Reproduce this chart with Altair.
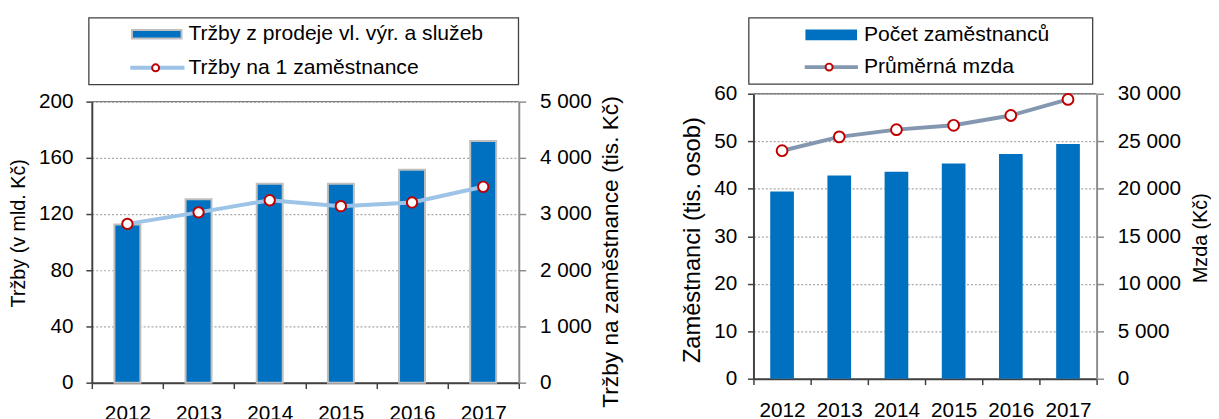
import altair as alt
import pandas as pd

# ---- data ----
years = ["2012", "2013", "2014", "2015", "2016", "2017"]
trzby = [112.5, 130.5, 141.5, 141.5, 151.5, 172.0]          # mld. Kč
trzby_na_zam = [2825, 3030, 3245, 3140, 3205, 3485]         # tis. Kč
zamestnanci = [39.4, 42.8, 43.6, 45.3, 47.3, 49.4]          # tis. osob
mzda = [24000, 25460, 26220, 26680, 27710, 29400]           # Kč

left_ticks = [0, 40, 80, 120, 160, 200]
left2_ticks = [0, 1000, 2000, 3000, 4000, 5000]
right_ticks = [0, 10, 20, 30, 40, 50, 60]
right2_ticks = [0, 5000, 10000, 15000, 20000, 25000, 30000]

legend_left = ["Tržby z prodeje vl. výr. a služeb", "Tržby na 1 zaměstnance"]
legend_right = ["Počet zaměstnanců", "Průměrná mzda"]
title_left = "Tržby (v mld. Kč)"
title_left2 = "Tržby na zaměstnance (tis. Kč)"
title_right = "Zaměstnanci (tis. osob)"
title_right2 = "Mzda (Kč)"

FONT = "Liberation Sans"
BLUE = "#0070C0"
RED = "#C00000"
LABEL_EXPR = "replace(format(datum.value, ','), ',', ' ')"

df_l = pd.DataFrame({"rok": years, "trzby": trzby, "na_zam": trzby_na_zam})
df_r = pd.DataFrame({"rok": years, "zam": zamestnanci, "mzda": mzda})
one = pd.DataFrame({"a": [0]})


def x_enc(lab_pad):
    return alt.X(
        "rok:N",
        scale=alt.Scale(paddingInner=0, paddingOuter=0),
        axis=alt.Axis(
            title=None, labelAngle=0, tickBand="extent", tickSize=6,
            tickColor="#404040", tickWidth=1.5, domainColor="#404040",
            domainWidth=2, labelPadding=lab_pad, grid=False,
        ),
    )


def left_axis(values, title, tpad, ty, lpad=13, tsize=20):
    return alt.Axis(
        orient="left", values=values, grid=True, gridDash=[2, 2],
        gridColor="#A6A6A6", gridWidth=1.2, domainColor="#404040",
        domainWidth=2, tickColor="#404040", tickWidth=1.5, tickSize=6,
        labelPadding=lpad, title=title, titlePadding=tpad, titleY=ty,
        titleFontSize=tsize, labelExpr=LABEL_EXPR,
    )


def right_axis(values, title, tpad, ty, tsize=20):
    return alt.Axis(
        orient="right", values=values, grid=False, domainColor="#8C8C8C",
        domainWidth=2, tickColor="#8C8C8C", tickWidth=1.5, tickSize=7,
        labelPadding=14, title=title, titlePadding=tpad, titleAngle=270,
        titleBaseline="top", titleY=ty, titleFontSize=tsize, labelExpr=LABEL_EXPR,
    )


def legend_layers(box, sym, line_pts, text_x, text_ys, labels, line_color, bar_stroke):
    bx = alt.Chart(one).mark_rect(fill="white", stroke="#404040", strokeWidth=1.3).encode(
        x=alt.value(box[0]), x2=alt.value(box[1]), y=alt.value(box[2]), y2=alt.value(box[3]))
    if bar_stroke:
        sy = alt.Chart(one).mark_rect(fill=BLUE, stroke="#BFBFBF", strokeWidth=2)
    else:
        sy = alt.Chart(one).mark_rect(fill=BLUE)
    sy = sy.encode(x=alt.value(sym[0]), x2=alt.value(sym[1]), y=alt.value(sym[2]), y2=alt.value(sym[3]))
    ln = alt.Chart(one).mark_rule(color=line_color, strokeWidth=4).encode(
        x=alt.value(line_pts[0]), x2=alt.value(line_pts[1]), y=alt.value(line_pts[2]))
    pt = alt.Chart(one).mark_point(shape="circle", filled=True, fill="white", stroke=RED,
                                   strokeWidth=2, size=50, opacity=1).encode(
        x=alt.value(line_pts[3]), y=alt.value(line_pts[2]))
    t1 = alt.Chart(one).mark_text(align="left", baseline="middle", font=FONT, fontSize=21.4,
                                  color="black").encode(
        x=alt.value(text_x), y=alt.value(text_ys[0]), text=alt.value(labels[0]))
    t2 = alt.Chart(one).mark_text(align="left", baseline="middle", font=FONT, fontSize=21.4,
                                  color="black").encode(
        x=alt.value(text_x), y=alt.value(text_ys[1]), text=alt.value(labels[1]))
    return [bx, sy, ln, pt, t1, t2]


# ---- left panel ----
HL = 293
WL = 433
bars_l = alt.Chart(df_l).mark_bar(width=alt.RelativeBandSize(0.365), color=BLUE,
                                  stroke="#BFBFBF", strokeWidth=2).encode(
    x=x_enc(14),
    y=alt.Y("trzby:Q", scale=alt.Scale(domain=[0, 200], range=[HL, 8], nice=False),
            axis=left_axis(left_ticks, title_left, 10, 141)),
)
top_l = alt.Chart(pd.DataFrame({"trzby": [200]})).mark_rule(color="#808080", strokeWidth=1.5).encode(
    y="trzby:Q")
line_l = alt.Chart(df_l).mark_line(color="#9DC3E6", strokeWidth=4).encode(
    x="rok:N",
    y=alt.Y("na_zam:Q", scale=alt.Scale(domain=[0, 5000], range=[HL, 8], nice=False),
            axis=right_axis(left2_ticks, title_left2, 9, 160, 23)),
)
pts_l = alt.Chart(df_l).mark_point(shape="circle", filled=True, fill="white", stroke=RED,
                                   strokeWidth=2, size=110, opacity=1).encode(
    x="rok:N", y="na_zam:Q")

left = alt.layer(
    alt.layer(bars_l, top_l),
    alt.layer(line_l, pts_l),
    *legend_layers((-3, 432.7, -77, -9.3), (40.7, 91, -64.6, -56), (39, 94, -26.3, 64.7),
                   98, (-60.3, -26.2), legend_left, "#9DC3E6", True),
).resolve_scale(y="independent").properties(width=WL, height=HL)

# ---- right panel ----
HR = 289
WR = 348
bars_r = alt.Chart(df_r).mark_bar(width=alt.RelativeBandSize(0.414), color=BLUE).encode(
    x=x_enc(15),
    y=alt.Y("zam:Q", scale=alt.Scale(domain=[0, 60], nice=False),
            axis=left_axis(right_ticks, title_right, 9, 148, lpad=11, tsize=24)),
)
top_r = alt.Chart(pd.DataFrame({"zam": [60]})).mark_rule(color="#808080", strokeWidth=1.5).encode(
    y="zam:Q")
line_r = alt.Chart(df_r).mark_line(color="#8497B0", strokeWidth=4).encode(
    x="rok:N",
    y=alt.Y("mzda:Q", scale=alt.Scale(domain=[0, 30000], nice=False),
            axis=right_axis(right2_ticks, title_right2, 10, 146)),
)
pts_r = alt.Chart(df_r).mark_point(shape="circle", filled=True, fill="white", stroke=RED,
                                   strokeWidth=2, size=120, opacity=1).encode(
    x="rok:N", y="mzda:Q")

right = alt.layer(
    alt.layer(bars_r, top_r),
    alt.layer(line_r, pts_r),
    *legend_layers((-4.7, 344, -77, -9.7), (52.7, 105, -65.2, -54.2), (52, 106, -27, 76.7),
                   112, (-59.2, -27), legend_right, "#8497B0", False),
).resolve_scale(y="independent").properties(width=WR, height=HR)

chart = alt.hconcat(left, right, spacing=238, bounds="flush").properties(
    padding={"left": 0, "top": 6, "right": 0, "bottom": 0}
).configure_view(strokeWidth=0).configure_axis(
    labelFont=FONT, labelFontSize=21, labelColor="black",
    titleFont=FONT, titleFontSize=20, titleFontWeight="normal", titleColor="black",
)

chart.save("out.html", embed_options={"renderer": "svg", "actions": False})
